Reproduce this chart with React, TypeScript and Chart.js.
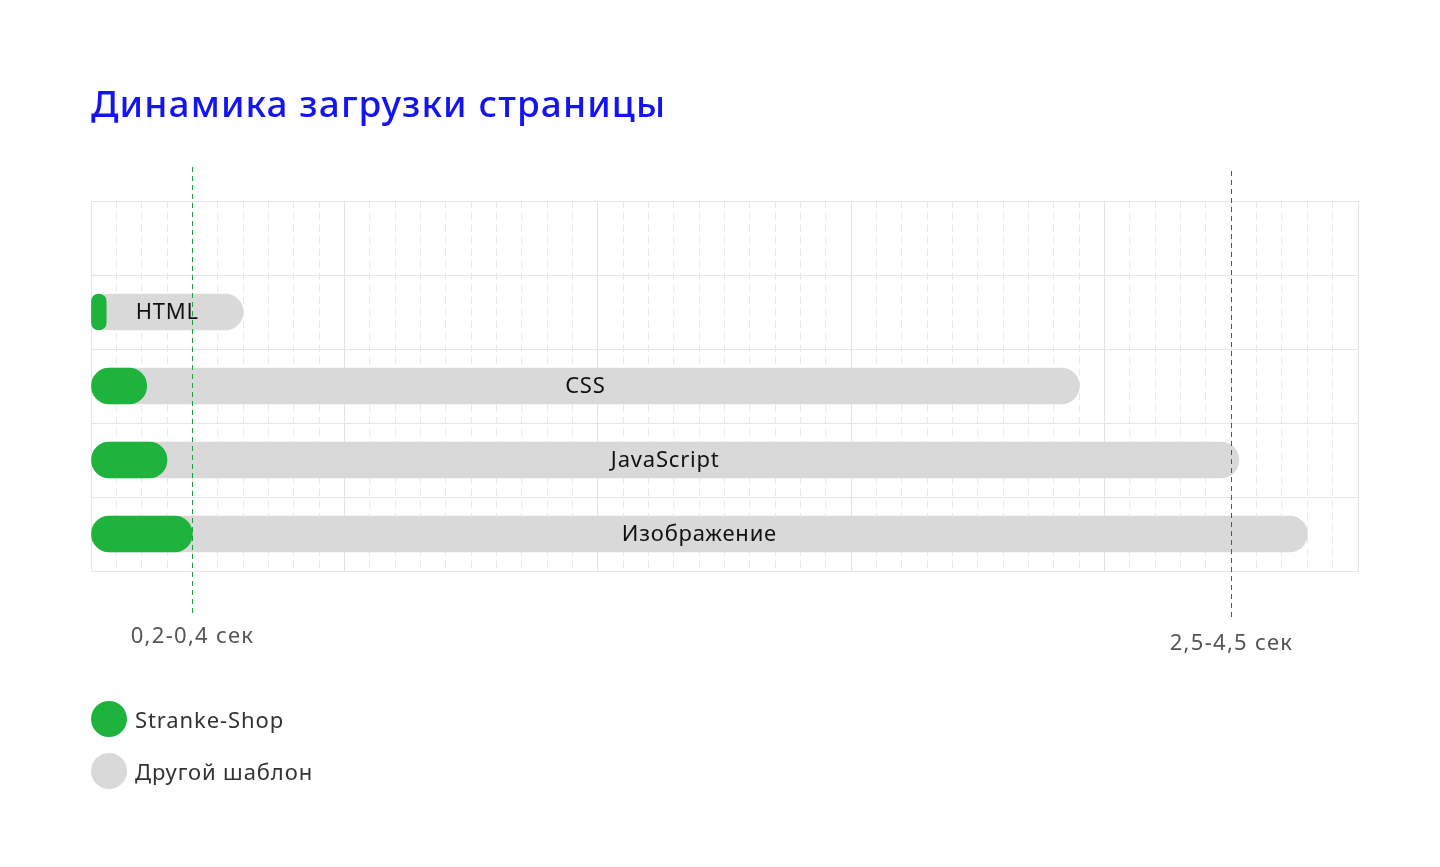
import { useEffect, useRef } from "react"
import { Chart, registerables } from "chart.js"

Chart.register(...registerables)

const FONT = "'Noto Sans', sans-serif"

const categories = ["", "HTML", "CSS", "JavaScript", "Изображение"]
const seriesNames = ["Stranke-Shop", "Другой шаблон"]
const strankeShop = [null, 0.06, 0.22, 0.3, 0.4]
const otherTemplate = [null, 0.6, 3.9, 4.53, 4.8]
const markerValues = [0.4, 4.5]
const markerLabels = ["0,2-0,4 сек", "2,5-4,5 сек"]

const GREEN = "#1DB33C"
const GRAY = "#D9D9D9"
const GRID = "#E6E6E6"

// small per-marker styling (line colour, how far it sticks out, label offset)
const markerStyles = [
  { color: "#1E9E3A", top: 34, bottom: 46, label: 66 },
  { color: "#555555", top: 30, bottom: 49, label: 73 },
]

const overlayPlugin = {
  id: "overlay",
  afterDatasetsDraw(chart: any) {
    const { ctx, chartArea, scales } = chart
    ctx.save()
    ctx.font = `22px ${FONT}`
    ctx.textAlign = "center"
    ctx.textBaseline = "middle"

    // category names centred on the grey bars
    ctx.fillStyle = "#111111"
    ctx.letterSpacing = "0.8px"
    const meta = chart.getDatasetMeta(1)
    meta.data.forEach((bar: any, i: number) => {
      if (!categories[i] || otherTemplate[i] == null) return
      const { x, base, y } = bar.getProps(["x", "base", "y"], true)
      ctx.fillText(categories[i], (x + base) / 2, y + 1)
    })

    // dashed reference lines with their captions
    ctx.letterSpacing = "1.3px"
    markerValues.forEach((v, i) => {
      const st = markerStyles[i]
      const px = Math.round(scales.x.getPixelForValue(v)) + 0.5
      ctx.beginPath()
      ctx.setLineDash([5, 4])
      ctx.strokeStyle = st.color
      ctx.lineWidth = 1
      ctx.moveTo(px, chartArea.top - st.top)
      ctx.lineTo(px, chartArea.bottom + st.bottom)
      ctx.stroke()
      ctx.setLineDash([])
      ctx.fillStyle = "#555555"
      ctx.fillText(markerLabels[i], px, chartArea.bottom + st.label)
    })
    ctx.restore()
  },
}

function isMajor(ctx: any) {
  const v = ctx.tick ? ctx.tick.value : null
  if (v == null) return true
  return Math.round(v * 10) % 10 === 0
}

function LoadChart() {
  const chartRef = useRef<HTMLCanvasElement>(null)
  const chartInstance = useRef<Chart | null>(null)

  useEffect(() => {
    if (!chartRef.current) return
    if (chartInstance.current) chartInstance.current.destroy()

    chartInstance.current = new Chart(chartRef.current, {
      type: "bar",
      data: {
        labels: categories,
        datasets: [
          {
            label: seriesNames[0],
            data: strankeShop,
            backgroundColor: GREEN,
            borderRadius: 18,
            borderSkipped: false,
            barThickness: 36,
            grouped: false,
          },
          {
            label: seriesNames[1],
            data: otherTemplate,
            backgroundColor: GRAY,
            borderRadius: 18,
            borderSkipped: false,
            barThickness: 36,
            grouped: false,
          },
        ],
      },
      options: {
        indexAxis: "y",
        responsive: false,
        animation: false,
        layout: { padding: { left: 91, right: 82, top: 201, bottom: 296 } },
        plugins: {
          legend: { display: false },
          tooltip: { enabled: false },
        },
        scales: {
          x: {
            type: "linear",
            min: 0,
            max: 5,
            ticks: { display: false, stepSize: 0.1 },
            grid: {
              drawTicks: false,
              color: (c: any) => (isMajor(c) ? "#E3E3E3" : "#E8E8E8"),
              lineWidth: 1,
            },
            border: {
              color: GRID,
              dash: (c: any) => (isMajor(c) ? [] : [7, 5]),
            },
          },
          y: {
            type: "category",
            ticks: { display: false },
            grid: { drawTicks: false, color: GRID },
            border: { color: GRID },
          },
        },
      },
      plugins: [overlayPlugin],
    } as any)

    return () => {
      if (chartInstance.current) {
        chartInstance.current.destroy()
        chartInstance.current = null
      }
    }
  }, [])

  return <canvas ref={chartRef} width={1440} height={867} style={{ display: "block" }}></canvas>
}

export default function App() {
  const legendColors = [GREEN, GRAY]
  return (
    <div
      style={{
        position: "absolute",
        top: 0,
        left: 0,
        width: 1440,
        height: 867,
        background: "#ffffff",
        fontFamily: FONT,
        overflow: "hidden",
      }}
    >
      <LoadChart />
      <div
        style={{
          position: "absolute",
          left: 91,
          top: 83,
          fontSize: 37,
          fontWeight: 500,
          letterSpacing: "1.1px",
          lineHeight: "40px",
          color: "#1414F0",
          whiteSpace: "nowrap",
        }}
      >
        Динамика загрузки страницы
      </div>
      {seriesNames.map((name, i) => (
        <div
          key={name}
          style={{
            position: "absolute",
            left: 91,
            top: 701 + i * 52,
            height: 36,
            display: "flex",
            alignItems: "center",
            gap: 8,
            fontSize: 22,
            letterSpacing: "0.9px",
            color: "#333333",
            whiteSpace: "nowrap",
          }}
        >
          <span
            style={{
              width: 36,
              height: 36,
              borderRadius: "50%",
              background: legendColors[i],
              display: "inline-block",
            }}
          />
          <span>{name}</span>
        </div>
      ))}
    </div>
  )
}
